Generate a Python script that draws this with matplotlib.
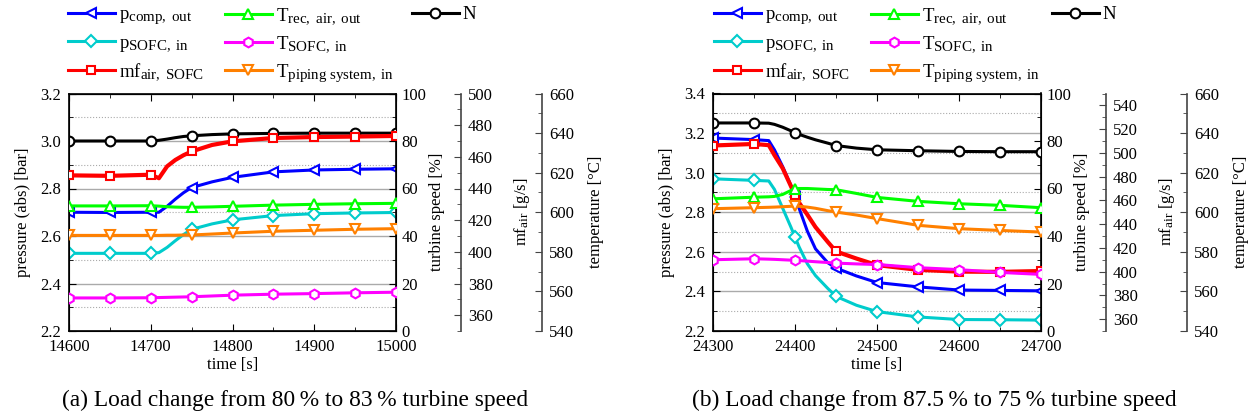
import matplotlib
matplotlib.use("Agg")
import matplotlib.pyplot as plt
import matplotlib._mathtext as mtext
from matplotlib.ticker import MultipleLocator, FormatStrFormatter
from matplotlib.lines import Line2D

plt.rcParams['font.family'] = 'serif'
plt.rcParams['font.serif'] = ['Liberation Serif', 'DejaVu Serif']
plt.rcParams['mathtext.fontset'] = 'custom'
plt.rcParams['mathtext.rm'] = 'Liberation Serif'
plt.rcParams['mathtext.it'] = 'Liberation Serif:italic'
plt.rcParams['mathtext.bf'] = 'Liberation Serif:bold'
# subscripts in the original are bigger than mathtext's default 70 %
mtext.SHRINK_FACTOR = 0.8

# ---- panel (a): load change 80 % -> 83 %
t_a = [14600, 14650, 14700, 14710, 14720, 14730, 14740, 14750, 14775, 14800,
       14850, 14900, 14950, 15000]
p_comp_a = [2.700, 2.699, 2.700, 2.700, 2.725, 2.755, 2.782, 2.804, 2.828, 2.847,
            2.870, 2.878, 2.881, 2.883]
p_sofc_a = [2.527, 2.527, 2.527, 2.530, 2.552, 2.580, 2.606, 2.628, 2.651, 2.668,
            2.686, 2.694, 2.697, 2.699]
mf_a = [448.3, 448.0, 448.7, 446.5, 454.0, 458.0, 461.0, 463.4, 467.5, 469.8,
        471.9, 472.5, 472.8, 473.2]
n_a = [80.0, 80.0, 80.0, 80.3, 80.8, 81.4, 81.9, 82.2, 82.7, 83.0,
       83.2, 83.3, 83.3, 83.3]
t_rec_a = [603.2, 603.2, 603.3, 603.1, 602.8, 602.6, 602.5, 602.5, 602.7, 603.0,
           603.6, 604.0, 604.3, 604.5]
t_sofc_a = [556.7, 556.7, 556.8, 556.9, 557.0, 557.1, 557.2, 557.3, 557.7, 558.1,
            558.6, 558.9, 559.3, 559.6]
t_pip_a = [588.3, 588.3, 588.3, 588.3, 588.4, 588.4, 588.5, 588.5, 589.0, 589.5,
           590.4, 590.9, 591.4, 591.7]

# ---- panel (b): load change 87.5 % -> 75 %
t_b = [24300, 24350, 24368, 24375, 24385, 24395, 24400, 24405, 24415, 24425,
       24440, 24450, 24475, 24500, 24550, 24600, 24650, 24700]
p_comp_b = [3.175, 3.167, 3.162, 3.115, 3.030, 2.935, 2.875, 2.820, 2.705, 2.615,
            2.545, 2.518, 2.478, 2.445, 2.423, 2.407, 2.405, 2.403]
p_sofc_b = [2.969, 2.961, 2.958, 2.915, 2.820, 2.725, 2.675, 2.625, 2.540, 2.480,
            2.415, 2.375, 2.330, 2.298, 2.271, 2.258, 2.257, 2.255]
mf_b = [506.2, 507.5, 506.5, 498.0, 487.0, 472.0, 464.5, 458.0, 448.0, 437.5,
        425.0, 417.0, 411.0, 405.5, 401.5, 400.0, 399.8, 400.5]
n_b = [87.6, 87.6, 87.5, 87.0, 85.8, 84.3, 83.5, 82.8, 81.6, 80.5,
       79.1, 78.1, 77.0, 76.3, 75.9, 75.6, 75.5, 75.5]
t_rec_b = [606.8, 607.6, 607.8, 608.0, 609.0, 611.0, 611.9, 612.0, 612.0, 611.8,
           611.5, 611.4, 609.5, 607.5, 605.5, 604.3, 603.5, 602.3]
t_sofc_b = [576.0, 576.5, 576.3, 576.2, 576.0, 575.8, 575.7, 575.6, 575.3, 575.0,
            574.6, 574.3, 573.9, 573.6, 572.0, 571.0, 569.6, 568.6]
t_pip_b = [601.8, 602.3, 602.5, 602.6, 602.8, 603.0, 603.1, 603.0, 602.6, 602.0,
           600.8, 600.1, 598.6, 596.8, 593.4, 591.7, 590.8, 590.0]

labels = [r'p$_\mathrm{comp,\ out}$', r'p$_\mathrm{SOFC,\ in}$', r'mf$_\mathrm{air,\ SOFC}$',
          r'T$_\mathrm{rec,\ air,\ out}$', r'T$_\mathrm{SOFC,\ in}$',
          r'T$_\mathrm{piping\ system,\ in}$', 'N']
colors = ['#0000ff', '#00cccc', '#ff0000', '#00ff00', '#ff00ff', '#ff8000', 'black']
markers = ['<', 'D', 's', '^', 'h', 'v', 'o']
msizes = [7, 6, 6, 7, 7, 7, 7]

W, H = 1251, 417
fig = plt.figure(figsize=(W / 100, H / 100), dpi=100)


def style(k, lw=2.2):
    return dict(color=colors[k], marker=markers[k], ms=msizes[k], mfc='white',
                mec=colors[k], mew=1.5, lw=lw)


def panel(x0, x1, t, pc, ps, mf, n, trec, tsofc, tpip, xlim, plim, mflim, mfticks):
    ax = fig.add_axes([x0 / W, 1 - 331 / H, (x1 - x0) / W, (331 - 93.5) / H])
    marks = [i for i, v in enumerate(t) if v % 50 == 0]

    ax.plot(t, pc, markevery=marks, **style(0))
    ax.plot(t, ps, markevery=marks, **style(1))
    ax.set_xlim(*xlim)
    ax.set_ylim(*plim)
    ax.xaxis.set_major_locator(MultipleLocator(100))
    ax.xaxis.set_minor_locator(MultipleLocator(50))
    ax.yaxis.set_major_locator(MultipleLocator(0.2))
    ax.yaxis.set_minor_locator(MultipleLocator(0.1))
    ax.yaxis.set_major_formatter(FormatStrFormatter('%.1f'))
    ax.grid(axis='y', which='major', color='#aaaaaa', lw=1.0)
    ax.grid(axis='y', which='minor', color='#aaaaaa', lw=0.8, ls=':')
    ax.tick_params(which='both', direction='in', top=True, right=False, labelsize=12)
    ax.tick_params(which='major', length=5)
    ax.tick_params(which='minor', length=3)
    ax.tick_params(axis='x', pad=6)
    ax.tick_params(axis='y', pad=6)
    ax.set_xlabel('time [s]', fontsize=12, labelpad=1)
    ax.set_ylabel('pressure (abs) [bar]', fontsize=12, labelpad=6)
    for s in ax.spines.values():
        s.set_linewidth(1.2)

    tw = ax.twinx()
    tw.plot(t, n, markevery=marks, **style(6))
    tw.set_ylim(0, 100)
    tw.yaxis.set_major_locator(MultipleLocator(20))
    tw.yaxis.set_minor_locator(MultipleLocator(10))
    tw.tick_params(which='both', direction='in', labelsize=12, pad=4)
    tw.tick_params(which='major', length=5)
    tw.tick_params(which='minor', length=3)
    tw.set_ylabel('turbine speed [%]', fontsize=12, labelpad=2)

    am = ax.twinx()
    am.spines['right'].set_position(('axes', 1 + 65 / (x1 - x0)))
    am.plot(t, mf, markevery=marks, **style(2, lw=3.0))
    am.set_ylim(*mflim)
    am.yaxis.set_minor_locator(MultipleLocator(10))
    am.set_yticks(mfticks)
    am.set_ylabel(r'mf$_\mathrm{air}$ [g/s]', fontsize=12, labelpad=14)

    at = ax.twinx()
    at.spines['right'].set_position(('axes', 1 + 146 / (x1 - x0)))
    at.plot(t, trec, markevery=marks, **style(3))
    at.plot(t, tsofc, markevery=marks, **style(4))
    at.plot(t, tpip, markevery=marks, **style(5))
    at.set_ylim(540, 660)
    at.yaxis.set_major_locator(MultipleLocator(20))
    at.yaxis.set_minor_locator(MultipleLocator(10))
    at.set_ylabel('temperature [°C]', fontsize=12, labelpad=10)

    for a in (am, at):
        for side in ('left', 'top', 'bottom'):
            a.spines[side].set_visible(False)
        a.spines['right'].set_color('#444444')
        a.spines['right'].set_linewidth(1.2)
        a.tick_params(which='both', direction='in', labelsize=12, color='#444444', pad=5)
        a.tick_params(which='major', length=5)
        a.tick_params(which='minor', length=3)
    for a in (tw, am, at):
        a.set_xlim(*xlim)
    return ax


panel(69, 396, t_a, p_comp_a, p_sofc_a, mf_a, n_a, t_rec_a, t_sofc_a, t_pip_a,
      (14600, 15000), (2.2, 3.2), (350, 500), list(range(360, 501, 20)))
panel(713, 1041, t_b, p_comp_b, p_sofc_b, mf_b, n_b, t_rec_b, t_sofc_b, t_pip_b,
      (24300, 24700), (2.2, 3.4), (350, 550), list(range(360, 541, 20)))

handles = [Line2D([], [], **style(k)) for k in range(7)]
for lx in ([68, 225, 412], [714, 871, 1052]):
    groups = [[0, 1, 2], [3, 4, 5], [6]]
    for gx, g in zip(lx, groups):
        fig.legend([handles[k] for k in g], [labels[k] for k in g],
                   loc='upper left', bbox_to_anchor=(gx / W, 1 - 6 / H),
                   frameon=False, fontsize=13.5, borderpad=0, borderaxespad=0,
                   handlelength=2.5, handletextpad=0.2, labelspacing=0.38)

fig.text(295 / W, 1 - 400 / H, '(a) Load change from 80\u2009% to 83\u2009% turbine speed',
         ha='center', va='center', fontsize=16.8)
fig.text(934 / W, 1 - 400 / H, '(b) Load change from 87.5\u2009% to 75\u2009% turbine speed',
         ha='center', va='center', fontsize=16.8)

fig.savefig('out.png', dpi=100)
